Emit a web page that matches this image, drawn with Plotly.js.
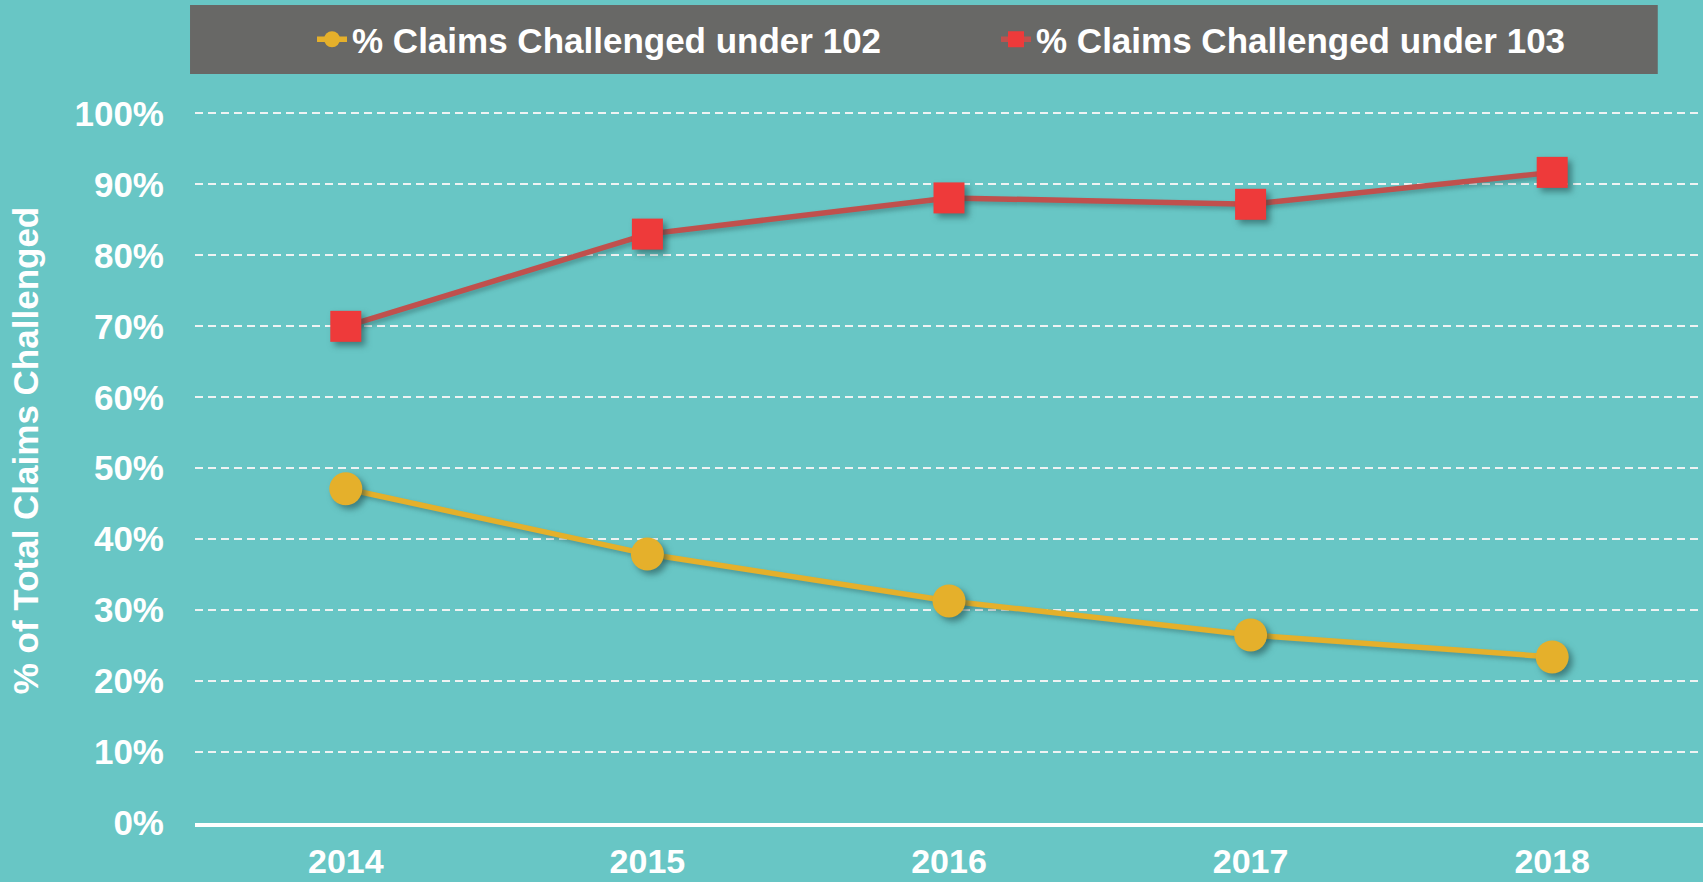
<!DOCTYPE html>
<html>
<head>
<meta charset="utf-8">
<script src="https://cdn.plot.ly/plotly-3.0.1.min.js"></script>
<style>
  html, body { margin: 0; padding: 0; background: #68C6C5; }
  #chart { width: 1703px; height: 882px; }
  .scatterlayer .trace .points path { filter: drop-shadow(4px 4px 3px rgba(30,70,70,0.55)); }
  .scatterlayer .trace .js-line { filter: drop-shadow(3px 3px 2px rgba(30,70,70,0.35)); }
</style>
</head>
<body>
<div id="chart"></div>
<script>
const years = ['2014', '2015', '2016', '2017', '2018'];
const pct102 = [47.1, 37.9, 31.3, 26.5, 23.4];
const pct103 = [70.0, 83.0, 88.1, 87.2, 91.7];
const name102 = '% Claims Challenged under 102';
const name103 = '% Claims Challenged under 103';
const yTickVals = [0, 10, 20, 30, 40, 50, 60, 70, 80, 90, 100];
const yTickText = ['0%', '10%', '20%', '30%', '40%', '50%', '60%', '70%', '80%', '90%', '100%'];
const yTitle = '% of Total Claims Challenged';

const FONT = 'Arial, "Liberation Sans", sans-serif';

const traces = [
  {
    x: years, y: pct102, name: name102, type: 'scatter', mode: 'lines+markers',
    line: { color: '#E5B02B', width: 5.5 },
    marker: { symbol: 'circle', size: 33, color: '#E5B02B' }
  },
  {
    x: years, y: pct103, name: name103, type: 'scatter', mode: 'lines+markers',
    line: { color: '#C0504D', width: 5.5 },
    marker: { symbol: 'square', size: 31, color: '#EE3A3A' }
  }
];

const layout = {
  width: 1703, height: 882,
  paper_bgcolor: '#68C6C5', plot_bgcolor: '#68C6C5',
  margin: { l: 195, r: 0, t: 78, b: 59 },
  font: { family: FONT, color: '#FFFFFF', size: 35, weight: 'bold' },
  showlegend: true,
  legend: {
    orientation: 'h', x: 0.0776, xanchor: 'left', y: 1.0517, yanchor: 'middle',
    bgcolor: 'rgba(0,0,0,0)', entrywidth: 639, entrywidthmode: 'pixels',
    font: { family: FONT, color: '#FFFFFF', size: 35, weight: 'bold' }
  },
  shapes: [
    { type: 'rect', xref: 'paper', yref: 'paper', x0: -0.0033, x1: 0.970, y0: 1.0054, y1: 1.098,
      fillcolor: '#686866', line: { width: 0 }, layer: 'below' }
  ],
  xaxis: {
    type: 'category', range: [-0.5, 4.5],
    showgrid: false, zeroline: false,
    showline: true, linecolor: '#FFFFFF', linewidth: 4,
    ticks: 'outside', ticklen: 5, tickcolor: 'rgba(0,0,0,0)',
    tickfont: { family: FONT, color: '#FFFFFF', size: 34, weight: 'bold' },
    fixedrange: true
  },
  yaxis: {
    range: [0, 105],
    tickvals: yTickVals, ticktext: yTickText,
    showgrid: true, gridcolor: 'rgba(245,245,245,0.95)', gridwidth: 2, griddash: '8px,5px',
    zeroline: false, showline: false,
    ticks: 'outside', ticklen: 23, tickcolor: 'rgba(0,0,0,0)',
    tickfont: { family: FONT, color: '#FFFFFF', size: 35, weight: 'bold' },
    title: { text: yTitle, standoff: 25, font: { family: FONT, color: '#FFFFFF', size: 35, weight: 'bold' } },
    fixedrange: true
  }
};

Plotly.newPlot('chart', traces, layout, { displayModeBar: false, staticPlot: true });
</script>
</body>
</html>
